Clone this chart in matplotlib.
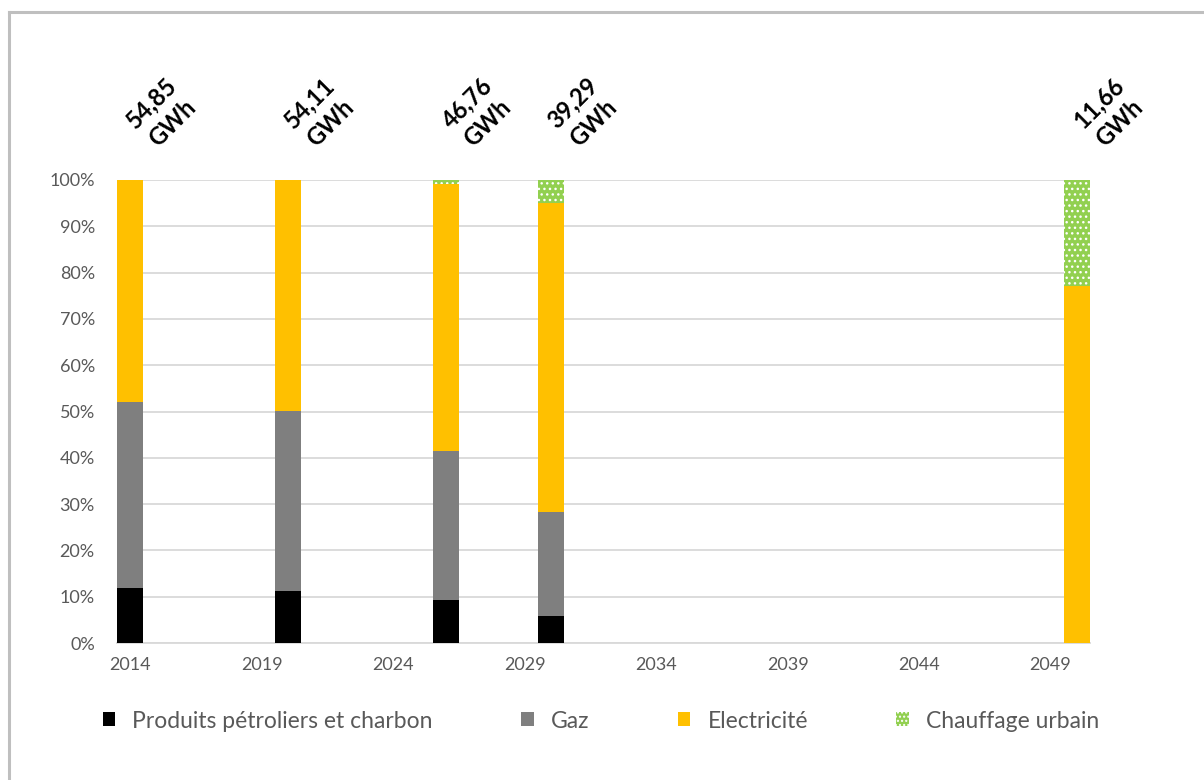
import matplotlib
matplotlib.use('Agg')
import matplotlib.pyplot as plt
from matplotlib.lines import Line2D
from matplotlib.patches import Patch
import numpy as np

# energy mix by year, shares in %
years = [2014, 2020, 2026, 2030, 2050]
petrole = [11.9, 11.3, 9.3, 5.8, 0.0]
gaz = [40.2, 38.9, 32.2, 22.6, 0.0]
electricite = [47.9, 49.8, 57.6, 66.6, 77.0]
chauffage = [0.0, 0.0, 0.9, 5.0, 23.0]
totaux = ['54,85', '54,11', '46,76', '39,29', '11,66']

noms = ['Produits pétroliers et charbon', 'Gaz', 'Electricité', 'Chauffage urbain']
couleurs = ['#000000', '#7F7F7F', '#FFC000', '#92D050']
xticks = [2014, 2019, 2024, 2029, 2034, 2039, 2044, 2049]

plt.rcParams['font.family'] = ['Lato', 'DejaVu Sans']
plt.rcParams['hatch.linewidth'] = 1.0


def main():
    fig = plt.figure(figsize=(12.04, 7.80), dpi=100)
    ax = fig.add_axes([117 / 1204, 1 - 643 / 780, 973 / 1204, 463 / 780])

    series = [petrole, gaz, electricite, chauffage]
    bottom = np.zeros(len(years))
    for i, vals in enumerate(series):
        vals = np.array(vals) / 100
        if i == 3:
            ax.bar(years, vals, width=1.0, bottom=bottom, color=couleurs[i],
                   edgecolor='white', linewidth=0, hatch='...', zorder=3)
        else:
            ax.bar(years, vals, width=1.0, bottom=bottom, color=couleurs[i],
                   linewidth=0, zorder=3)
        bottom += vals

    # total consumption above each bar
    for x, top, t in zip(years, bottom, totaux):
        ax.annotate(t + '\nGWh', xy=(x, top), xytext=(23, 48), textcoords='offset points',
                    ha='center', va='center', rotation=45, fontsize=17,
                    fontweight='bold', color='black', multialignment='center',
                    linespacing=1.3)

    ax.set_xlim(2013.5, 2050.5)
    ax.set_ylim(0, 1)
    ax.set_yticks(np.arange(0, 1.01, 0.1))
    ax.set_yticklabels(['%d%%' % v for v in range(0, 101, 10)])
    ax.set_xticks(xticks)
    ax.set_xticklabels([str(v) for v in xticks])
    ax.tick_params(axis='both', length=0, labelsize=13, labelcolor='#595959')
    ax.tick_params(axis='y', pad=16)
    ax.tick_params(axis='x', pad=10)
    ax.grid(axis='y', color='#D9D9D9', linewidth=1.3, zorder=0)
    for s in ['top', 'right', 'left']:
        ax.spines[s].set_visible(False)
    ax.spines['bottom'].set_color('#D9D9D9')
    ax.spines['bottom'].set_linewidth(1.3)

    handles = [Patch(facecolor=couleurs[0], linewidth=0),
               Patch(facecolor=couleurs[1], linewidth=0),
               Patch(facecolor=couleurs[2], linewidth=0),
               Patch(facecolor=couleurs[3], edgecolor='white', linewidth=0, hatch='....')]
    leg = fig.legend(handles, noms, loc='center', bbox_to_anchor=(601 / 1204, 1 - 721 / 780),
                     ncol=4, frameon=False, fontsize=16.5, handlelength=0.55, handleheight=0.55,
                     handletextpad=0.75, columnspacing=3.85)
    for t in leg.get_texts():
        t.set_color('#595959')

    # chart area border
    fig.add_artist(Line2D([9 / 1204, 9 / 1204], [0, 1 - 12 / 780], color='#BFBFBF',
                          linewidth=2.2, transform=fig.transFigure))
    fig.add_artist(Line2D([9 / 1204, 1], [1 - 12 / 780, 1 - 12 / 780], color='#BFBFBF',
                          linewidth=2.2, transform=fig.transFigure))

    fig.savefig('out.png', dpi=100)


if __name__ == '__main__':
    main()
